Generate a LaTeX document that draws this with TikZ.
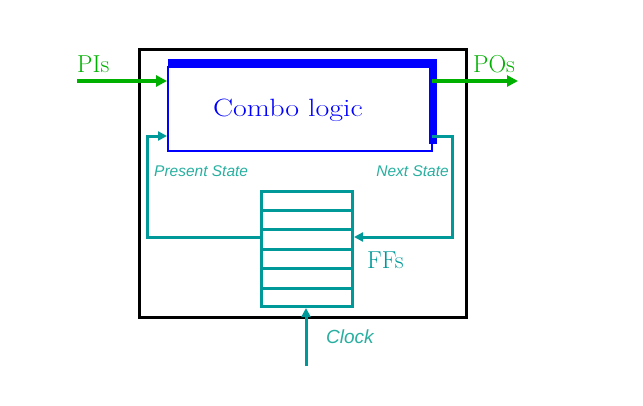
\documentclass[tikz,border=0pt]{standalone}
\usetikzlibrary{arrows.meta}
\usepackage{fontspec}
\newfontfamily\arialf{Liberation Sans}
\definecolor{grn}{RGB}{0,176,0}
\definecolor{tl}{RGB}{0,153,153}
\definecolor{tltext}{RGB}{40,175,160}
\definecolor{bl}{RGB}{0,0,255}
\begin{document}
\begin{tikzpicture}[x=1pt,y=-1pt,
  garrow/.style={grn, line width=4, -{Triangle[length=11,width=11]}},
  tarrow/.style={tl, line width=3, -{Triangle[length=9,width=9]}},
  tline/.style={tl, line width=3},
  bigtxt/.style={font=\fontsize{24.5}{28}\selectfont, inner sep=0, anchor=base west},
  lbl/.style={font=\arialf\itshape\fontsize{15.5}{18}\selectfont, text=tltext, inner sep=0}]
\useasboundingbox (0,0) rectangle (643,405);
\node[draw=black, line width=3, minimum width=327, minimum height=268, anchor=north west, inner sep=0] (outer) at (138,48) {};
% combo logic box
\node[draw=bl, line width=2.4, minimum width=264, minimum height=84, anchor=north west, inner sep=0] (combo) at (167,66) {};
\draw[bl, line width=7.5] (168,62.5) -- (433,62.5) -- (433,144);
\node[text=bl, font=\fontsize{25}{30}\selectfont, inner sep=0, anchor=base] (ctext) at (288,116) {\scalebox{1.2}[1]{Combo logic}};
% FFs
\node[draw=tl, line width=3, minimum width=91, minimum height=115, anchor=north west, inner sep=0] (ff) at (260,190) {};
\foreach \yy in {210,229,249,268,288} \draw[tline] (260,\yy) -- (351,\yy);
% PIs / POs
\coordinate (pi) at (77,81);
\coordinate (po) at (518,81);
\draw[garrow] (pi) -- (combo.west |- pi);
\draw[garrow] (432,81) -- (po);
\node[bigtxt, text=grn] (pitext) at (77,72) {PIs};
\node[bigtxt, text=grn] (potext) at (473,72) {POs};
% feedback loops
\coordinate (psL) at (147,136);
\coordinate (nsR) at (452,136);
\draw[tarrow] (ff.west |- 0,237) -| (psL) -- (combo.west |- psL);
\draw[tarrow] (432,136) -- (nsR) |- (ff.east |- 0,237);
\node[lbl, anchor=base west] (pstext) at (154,176) {Present State};
\node[lbl, anchor=base east] (nstext) at (449,176) {Next State};
\node[bigtxt, text=tl] (fftext) at (367,268) {FFs};
% clock
\coordinate (clk) at (306,366);
\draw[tarrow] (clk) -- (ff.south -| clk);
\node[lbl, font=\arialf\itshape\fontsize{19}{22}\selectfont, anchor=base west] (clktext) at (326,343) {Clock};
\end{tikzpicture}
\end{document}
